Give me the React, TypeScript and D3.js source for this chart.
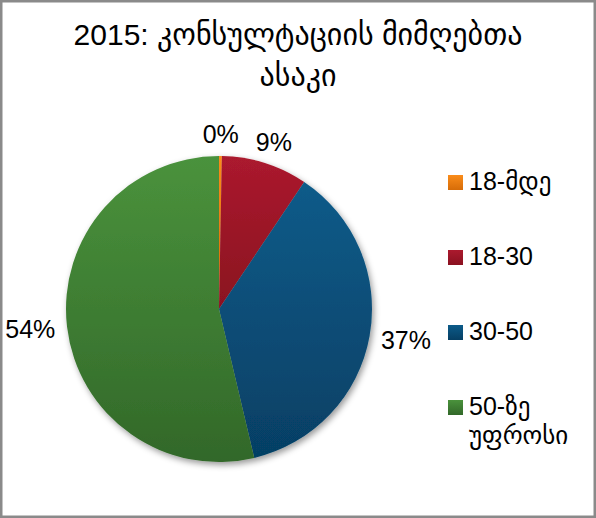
import React, { useEffect, useRef } from 'react';
import * as d3 from 'd3';

const titleLines = ['2015: კონსულტაციის მიმღებთა', 'ასაკი'];
const categories = ['18-მდე', '18-30', '30-50', '50-ზე უფროსი'];
const values = [0.3, 9.1, 36.9, 53.7];
const labels = ['0%', '9%', '37%', '54%'];
const topColors = ['#FA8C1A', '#AB1A2E', '#0C5B89', '#4A923C'];
const bottomColors = ['#D66C08', '#8A1120', '#063F64', '#326829'];

const W = 596, H = 518;
const FONT = '"Liberation Sans", Arial, "DejaVu Sans", sans-serif';

function App() {
  const ref = useRef<SVGSVGElement | null>(null);

  useEffect(() => {
    const svg = d3.select(ref.current);
    svg.selectAll('*').remove();

    // gradients + shadow
    const defs = svg.append('defs');
    categories.forEach((c, i) => {
      const lg = defs.append('linearGradient')
        .attr('id', 'grad' + i)
        .attr('x1', '0%').attr('y1', '0%')
        .attr('x2', '0%').attr('y2', '100%');
      lg.append('stop').attr('offset', '0%').attr('stop-color', topColors[i]);
      lg.append('stop').attr('offset', '100%').attr('stop-color', bottomColors[i]);
    });
    const filter = defs.append('filter').attr('id', 'shadow')
      .attr('x', '-20%').attr('y', '-20%').attr('width', '140%').attr('height', '140%');
    filter.append('feDropShadow')
      .attr('dx', 2).attr('dy', 3).attr('stdDeviation', 3)
      .attr('flood-color', '#000').attr('flood-opacity', 0.4);

    // background + border
    svg.append('rect')
      .attr('x', 1.25).attr('y', 1.25)
      .attr('width', W - 2.5).attr('height', H - 2.5)
      .attr('fill', '#fff')
      .attr('stroke', '#8a8a8a')
      .attr('stroke-width', 2.5);

    // title
    svg.append('g').selectAll('text')
      .data(titleLines)
      .enter()
      .append('text')
      .attr('x', W / 2)
      .attr('y', (d, i) => 45 + i * 41)
      .attr('text-anchor', 'middle')
      .attr('font-family', FONT)
      .attr('font-size', 30)
      .attr('fill', '#000')
      .text(d => d);

    // pie
    const cx = 219, cy = 309, R = 153;
    const pie = d3.pie<number>().value(d => d).sort(null);
    const arcs = pie(values);
    const arc = d3.arc<d3.PieArcDatum<number>>().innerRadius(0).outerRadius(R);

    const g = svg.append('g').attr('transform', `translate(${cx} ${cy})`);
    g.append('g')
      .attr('filter', 'url(#shadow)')
      .selectAll('path')
      .data(arcs)
      .enter()
      .append('path')
      .attr('d', arc)
      .attr('fill', (d, i) => `url(#grad${i})`);

    // outside-end labels: box pushed out from the rim by its half size
    const labelSize = 25;
    const rim = R + 12;
    g.append('g').selectAll('text')
      .data(arcs)
      .enter()
      .append('text')
      .attr('text-anchor', 'middle')
      .attr('dy', '0.36em')
      .attr('font-family', FONT)
      .attr('font-size', labelSize)
      .attr('fill', '#000')
      .text((d, i) => labels[i])
      .each(function (d) {
        const el = this as SVGTextElement;
        const w = el.getComputedTextLength();
        const h = labelSize * 0.8;
        const a = (d.startAngle + d.endAngle) / 2;
        const sx = Math.sin(a), cy0 = -Math.cos(a);
        d3.select(el)
          .attr('x', rim * sx + (w / 2) * sx)
          .attr('y', rim * cy0 + (h / 2) * cy0);
      });

    // legend
    const legend = svg.append('g').attr('transform', 'translate(448 175)');
    const item = legend.selectAll('g')
      .data(categories)
      .enter()
      .append('g')
      .attr('transform', (d, i) => `translate(0 ${i * 75})`);
    item.append('rect')
      .attr('width', 15).attr('height', 15)
      .attr('fill', (d, i) => `url(#grad${i})`);
    item.append('text')
      .attr('x', 21)
      .attr('y', 15)
      .attr('font-family', FONT)
      .attr('font-size', 25)
      .attr('fill', '#000')
      .selectAll('tspan')
      .data(d => d.split(' '))
      .enter()
      .append('tspan')
      .attr('x', 21)
      .attr('dy', (d, i) => (i === 0 ? 0 : 29))
      .text(d => d);
  }, []);

  return (
    <svg ref={ref} width={W} height={H}
      style={{ position: 'absolute', left: 0, top: 0, display: 'block' }} />
  );
}

export default App;
